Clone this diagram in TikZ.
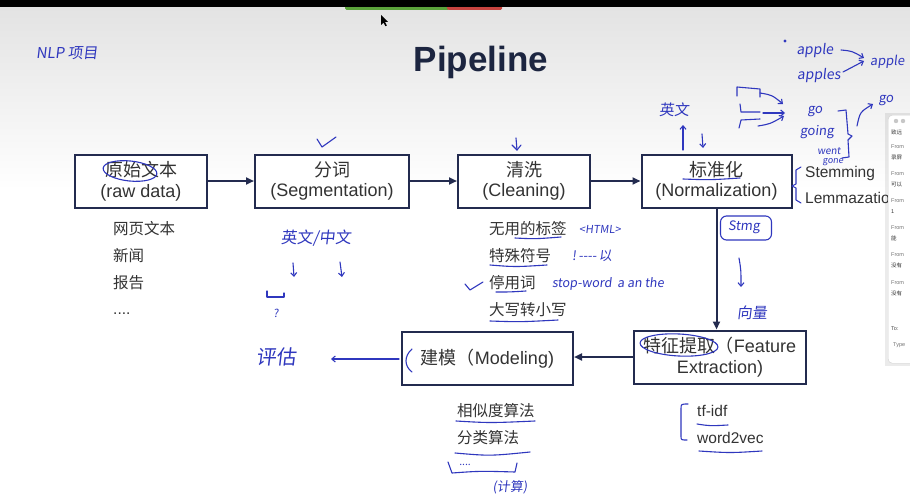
\documentclass[tikz,border=0pt]{standalone}
\usepackage{fontspec}
\setmainfont{Liberation Sans}
\newfontfamily\cjk{Noto Sans CJK SC}
\newfontfamily\hand{Noto Sans CJK SC}[FakeSlant=0.12]
\usetikzlibrary{arrows.meta,calc,shapes.geometric}

\definecolor{navy}{HTML}{232B4F}
\definecolor{titlec}{HTML}{1C2540}
\definecolor{ink}{HTML}{333333}
\definecolor{pen}{HTML}{2F37BE}
\definecolor{barg}{HTML}{5BA33B}
\definecolor{barr}{HTML}{C9443F}

\tikzset{
  stage/.style={draw=navy, line width=2pt, fill=white, minimum height=53pt,
    align=center, text=ink, font=\fontsize{18}{20.5}\selectfont, inner sep=2pt},
  flow/.style={draw=navy, line width=2pt, -{Triangle[length=8pt,width=7pt]}},
  item/.style={anchor=base west, text=ink, font=\fontsize{15.5}{18}\selectfont, inner sep=0pt},
  penline/.style={draw=pen, line width=1.1pt, line cap=round, line join=round},
  penarrow/.style={penline, -{Straight Barb[length=3.5pt,width=6pt]}},
  note/.style={text=pen, font=\hand\fontsize{13}{15}\selectfont, inner sep=0pt},
  mail/.style={text=black!55, font=\fontsize{5.5}{6}\selectfont, anchor=base west, inner sep=0pt},
}

\begin{document}
\begin{tikzpicture}[x=1pt,y=-1pt]
\useasboundingbox (0,0) rectangle (910,495);

% screen background
\fill[white] (0,0) rectangle (910,495);
\shade[top color=black!11, bottom color=white] (0,7) rectangle (910,190);
\fill[barg, rounded corners=1.5pt] (345,5) rectangle (449,10);
\fill[barr, rounded corners=1.5pt] (447,5) rectangle (502,10);
\fill[black] (0,0) rectangle (910,7);
% mouse pointer
\fill[black] (381,15) -- (381,25) -- (383.5,22.6) -- (385.4,26.2) -- (386.8,25.5)
  -- (385,22) -- (388.2,22) -- cycle;

% title
\node[font=\bfseries\fontsize{35}{40}\selectfont, text=titlec] (title) at (481,62) {Pipeline};

% pipeline stages
\node[stage, minimum width=132pt] (raw)   at (141,181)   {{\cjk 原始文本}\\(raw data)};
\node[stage, minimum width=154pt] (seg)   at (332,181)   {{\cjk 分词}\\(Segmentation)};
\node[stage, minimum width=132pt] (clean) at (524,181)   {{\cjk 清洗}\\(Cleaning)};
\node[stage, minimum width=150pt] (norm)  at (716.5,181) {{\cjk 标准化}\\(Normalization)};
\node[stage, minimum width=172pt] (feat)  at (720,357)   {{\cjk 特征提取（}Feature\\Extraction)};
\node[stage, minimum width=171pt] (model) at (487.5,358.5) {{\cjk 建模（}Modeling)};

\draw[flow] (raw.east) -- (raw.east -| seg.west);
\draw[flow] (seg.east) -- (seg.east -| clean.west);
\draw[flow] (clean.east) -- (clean.east -| norm.west);
\draw[flow] (norm.south) -- (norm.south |- feat.north);
\draw[flow] (feat.west) -- (feat.west -| model.east);

% details under each stage
\node[item] (r1) at (113,234) {\cjk 网页文本};
\node[item] (r2) at (113,261) {\cjk 新闻};
\node[item] (r3) at (113,288) {\cjk 报告};
\node[item] (r4) at (113,314) {....};

\node[item] (c1) at (489,234) {\cjk 无用的标签};
\node[item] (c2) at (489,261) {\cjk 特殊符号};
\node[item] (c3) at (489,288) {\cjk 停用词};
\node[item] (c4) at (489,315) {\cjk 大写转小写};

\node[item] (n1) at (805,177) {Stemming};
\node[item] (n2) at (805,203.5) {Lemmazation};

\node[item] (m1) at (457,416.5) {\cjk 相似度算法};
\node[item] (m2) at (457,443.5) {\cjk 分类算法};

\node[item] (f1) at (697,416.5) {tf-idf};
\node[item] (f2) at (697,443.5) {word2vec};

% mail window at the right edge
\fill[black, opacity=0.08] (885,113) rectangle (915,366);
\node[draw=black!18, fill=white, rounded corners=4pt, minimum width=30pt,
  minimum height=248pt, anchor=north west, inner sep=0pt] (mailwin) at (888,115) {};
\fill[black!22] (896,121) circle (2.2pt);
\fill[black!22] (903,121) circle (2.2pt);
\node[mail, text=black!75] (mt) at (891,134) {\cjk 致远};
\node[mail] (ma1) at (891,148) {From};
\node[mail, text=black!80] (mb1) at (891,159) {\cjk 录屏};
\node[mail] (ma2) at (891,175) {From};
\node[mail, text=black!80] (mb2) at (891,186) {\cjk 可以};
\node[mail] (ma3) at (891,202) {From};
\node[mail, text=black!80] (mb3) at (891,213) {1};
\node[mail] (ma4) at (891,229) {From};
\node[mail, text=black!80] (mb4) at (891,240) {\cjk 能};
\node[mail] (ma5) at (891,256) {From};
\node[mail, text=black!80] (mb5) at (891,267) {\cjk 没有};
\node[mail] (ma6) at (891,284) {From};
\node[mail, text=black!80] (mb6) at (891,295) {\cjk 没有};
\node[mail, text=black!70] (mto) at (891,330) {To:};
\node[mail] (mty) at (893,346) {Type};

% ---- pen annotations ----
\node[note, font=\hand\fontsize{15}{17}\selectfont] (proj) at (67,53) {NLP 项目};

% top right: lemma examples
\fill[pen] (785,41) circle (1.6pt);
\node[note, font=\hand\fontsize{14}{16}\selectfont] (ap1) at (815,51) {apple};
\node[note, font=\hand\fontsize{14}{16}\selectfont] (ap2) at (819,76) {apples};
\node[note, font=\hand\fontsize{13}{15}\selectfont, anchor=west] (ap3) at (870,62) {apple};
\draw[penarrow] (841,50) .. controls (852,51) .. (864,58);
\draw[penarrow] (843,72) .. controls (852,67) .. (864,61);

\draw[penline] (737,96) -- (737,87) -- (760,89) -- (760,97);
\draw[penline] (740,104) -- (741,112) -- (760,112);
\draw[penline] (739,128) -- (741,120) -- (760,119);
\draw[penarrow] (760,93) .. controls (772,95) .. (783,104);
\draw[penarrow] (763,113) -- (785,113);
\draw[penarrow] (758,126) .. controls (770,124) .. (784,116);

\node[note] (go1) at (815,112) {go};
\node[note] (go2) at (817,132) {going};
\node[note, font=\hand\fontsize{10}{12}\selectfont] (go3) at (829,151) {went};
\node[note, font=\hand\fontsize{9}{11}\selectfont] (go4) at (833,162) {gone};
\draw[penline] (838,111) -- (846,110) -- (848,134) -- (852,136) -- (848,140) -- (849,157) -- (842,158);
\draw[penarrow] (857,126) .. controls (860,112) .. (873,104);
\node[note] (go5) at (886,101) {go};

\node[note, font=\hand\fontsize{15}{17}\selectfont] (en) at (674,110) {英文};
\draw[penarrow] (683,150) -- (683,125);
\draw[penarrow] (702,134) -- (703,148);

% raw data / segmentation
\draw[penline, rotate around={-6:(130,171)}] (130,171) ellipse [x radius=27pt, y radius=10pt];
\draw[penline] (317,139) -- (322,147) -- (336,137);
\node[note, font=\hand\fontsize{16}{18}\selectfont] (lang) at (316,238) {英文/中文};
\draw[penarrow] (293,263) -- (294,277);
\draw[penarrow] (340,262) -- (342,277);
\draw[penline] (267,291) -- (267,297) -- (284,297) -- (284,293);
\node[note, font=\hand\fontsize{11}{12}\selectfont] (qm) at (276,313) {?};
\draw[penline] (516,138) -- (517,150);
\draw[penline] (512,145) -- (517,150) -- (521,145);

% cleaning notes
\node[note, font=\hand\fontsize{11}{13}\selectfont] (html) at (600,229) {<HTML>};
\node[note] (sym) at (592,256) {!\,----\,以};
\node[note, font=\hand\fontsize{12.5}{14}\selectfont] (stop) at (608,284) {stop-word\ \ a an the};
\draw[penline] (465,284) -- (470,290) -- (483,282);
\draw[penline] (515,238) .. controls (535,239) .. (561,237);
\draw[penline] (490,265) .. controls (515,267) .. (547,265);
\draw[penline] (496,292) .. controls (510,292) .. (526,291);
\draw[penline] (490,321) .. controls (520,322) .. (558,320);

% normalization notes
\draw[penline] (683,179) .. controls (710,180) .. (740,178);
\draw[penline] (801,167) -- (796,170) -- (796,184) -- (792,186) -- (796,188) -- (796,200) -- (801,203);
\node[penline, rounded corners=6pt, minimum width=51pt, minimum height=24pt, inner sep=0pt] (stmg) at (746,228) {};
\node[note, font=\hand\fontsize{13}{15}\selectfont] (stmgt) at (744,227) {Stmg};
\draw[penarrow] (739,258) .. controls (741,270) .. (741,287);
\node[note, font=\hand\fontsize{15}{17}\selectfont] (vec) at (752,313) {向量};

% feature / modeling notes
\draw[penline, rotate around={-3:(679,345)}] (679,345) ellipse [x radius=39pt, y radius=11pt];
\draw[penline] (688,404) .. controls (681,404) .. (681,409) -- (681,436) .. controls (681,440) .. (687,440);
\draw[penline] (697,424) .. controls (710,426) .. (728,425);
\draw[penline] (699,451) .. controls (730,453) .. (762,451);

\draw[penline] (412,349) .. controls (404,356) and (404,366) .. (412,372);
\draw[penarrow] (399,359) -- (331,359);
\node[note, font=\hand\fontsize{20}{22}\selectfont] (eval) at (276,357) {评估};

\draw[penline] (456,421) .. controls (490,423) .. (535,421);
\draw[penline] (455,453) .. controls (490,456) .. (530,452);
\draw[penline] (448,462) -- (452,473) .. controls (480,471) .. (515,472) -- (517,463);
\node[note, font=\hand\fontsize{10}{12}\selectfont] (dots) at (465,465) {....};
\node[note, font=\hand\fontsize{13}{15}\selectfont] (calc) at (510,487) {(计算)};

\end{tikzpicture}
\end{document}
